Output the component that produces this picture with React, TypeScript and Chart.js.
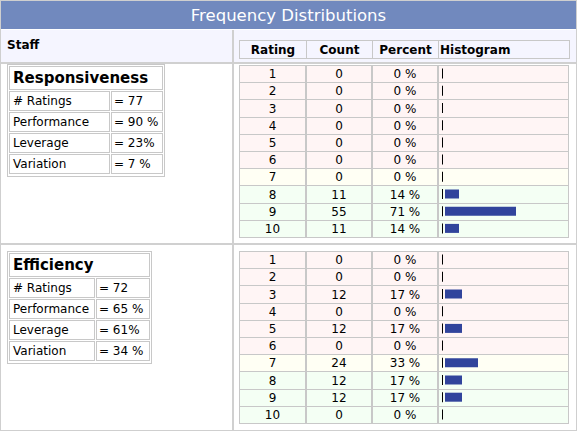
import React, { useEffect, useRef } from "react";
import { Chart, registerables } from "chart.js";

Chart.register(...registerables);

const TITLE = "Frequency Distributions";
const STAFF_HEADER = "Staff";
const HEADERS = ["Rating", "Count", "Percent", "Histogram"];
const RATINGS = [1, 2, 3, 4, 5, 6, 7, 8, 9, 10];

const STAFF = ["Responsiveness", "Efficiency"];
const STAT_LABELS = ["# Ratings", "Performance", "Leverage", "Variation"];
const RESP_STATS = ["= 77", "= 90 %", "= 23%", "= 7 %"];
const EFF_STATS = ["= 72", "= 65 %", "= 61%", "= 34 %"];

const RESP_COUNTS = [0, 0, 0, 0, 0, 0, 0, 11, 55, 11];
const RESP_PCTS = [0, 0, 0, 0, 0, 0, 0, 14, 71, 14];
const EFF_COUNTS = [0, 0, 12, 0, 12, 0, 24, 12, 12, 0];
const EFF_PCTS = [0, 0, 17, 0, 17, 0, 33, 17, 17, 0];

const FONT = "'DejaVu Sans', Verdana, sans-serif";
const GRID = "#c8c8c8";
const BLUE = "#7189be";
const BAR = "#31449c";

const COLS = [239, 306, 372, 438, 569];
const ROW_H = 17.2;

function rowColor(r: number) {
  if (r <= 6) return "#fff5f5";
  if (r === 7) return "#fffff4";
  return "#f4fff4";
}

function Box(p: {
  x: number; y: number; w: number; h: number; bg?: string; border?: string;
  children?: React.ReactNode; align?: "left" | "center"; font?: string; pad?: number;
}) {
  return (
    <div
      style={{
        position: "absolute",
        left: p.x,
        top: p.y,
        width: p.w,
        height: p.h,
        boxSizing: "border-box",
        background: p.bg || "transparent",
        border: p.border || "none",
        font: p.font || `12px ${FONT}`,
        color: "#000",
        display: "flex",
        alignItems: "center",
        justifyContent: p.align === "center" ? "center" : "flex-start",
        paddingLeft: p.pad || 0,
        whiteSpace: "nowrap",
        overflow: "hidden",
      }}
    >
      {p.children}
    </div>
  );
}

function Histogram(p: { x: number; y: number; w: number; h: number; pcts: number[] }) {
  const ref = useRef<HTMLCanvasElement | null>(null);
  useEffect(() => {
    if (!ref.current) return;
    const chart = new Chart(ref.current, {
      type: "bar",
      data: {
        labels: RATINGS.map(String),
        datasets: [
          {
            data: p.pcts,
            backgroundColor: BAR,
            barThickness: 9,
            grouped: false,
            borderWidth: 0,
            inflateAmount: 0,
          } as any,
          {
            data: RATINGS.map(() => [-3, -2]),
            backgroundColor: "#000",
            barThickness: 10,
            grouped: false,
            borderWidth: 0,
            inflateAmount: 0,
          } as any,
        ],
      },
      options: {
        indexAxis: "y",
        animation: false,
        responsive: false,
        maintainAspectRatio: false,
        layout: { padding: 0 },
        plugins: { legend: { display: false }, tooltip: { enabled: false } },
        scales: {
          x: { display: false, min: -5, max: p.w - 5 },
          y: { display: false },
        },
      },
    });
    return () => chart.destroy();
  }, []);
  return (
    <canvas
      ref={ref}
      width={p.w}
      height={p.h}
      style={{ position: "absolute", left: p.x, top: p.y, width: p.w, height: p.h }}
    />
  );
}

function RatingTable(p: { top: number; counts: number[]; pcts: number[] }) {
  const cells: React.ReactNode[] = [];
  RATINGS.forEach((r, i) => {
    const y0 = Math.round(p.top + i * ROW_H);
    const y1 = Math.round(p.top + (i + 1) * ROW_H);
    const texts = [String(r), String(p.counts[i]), `${p.pcts[i]} %`, ""];
    for (let c = 0; c < 4; c++) {
      cells.push(
        <Box
          key={`${i}-${c}`}
          x={COLS[c]}
          y={y0}
          w={COLS[c + 1] - COLS[c]}
          h={y1 - y0 + 1}
          bg={rowColor(r)}
          border={`1px solid ${GRID}`}
          align="center"
        >
          {texts[c]}
        </Box>
      );
    }
  });
  const h = Math.round(10 * ROW_H);
  return (
    <>
      {cells}
      <Histogram x={440} y={p.top} w={128} h={h} pcts={p.pcts} />
    </>
  );
}

function StatBox(p: { x: number; y: number; w: number; lw: number; name: string; values: string[] }) {
  const inner = p.w - 4;
  const rows = STAT_LABELS.map((l, k) => {
    const y = p.y + 27 + k * 21;
    return (
      <React.Fragment key={l}>
        <Box x={p.x + 2} y={y} w={p.lw} h={20} border={`1px solid ${GRID}`} pad={3}>
          {l}
        </Box>
        <Box x={p.x + 2 + p.lw + 1} y={y} w={inner - p.lw - 1} h={20} border={`1px solid ${GRID}`} pad={2}>
          {p.values[k]}
        </Box>
      </React.Fragment>
    );
  });
  return (
    <>
      <Box x={p.x} y={p.y} w={p.w} h={27 + 4 * 21 + 2} border={`1px solid ${GRID}`} />
      <Box x={p.x + 2} y={p.y + 2} w={inner} h={24} border={`1px solid ${GRID}`} pad={3} font={`bold 15px ${FONT}`}>
        {p.name}
      </Box>
      {rows}
    </>
  );
}

export default function App() {
  return (
    <div
      style={{
        position: "fixed",
        left: 0,
        top: 0,
        width: 577,
        height: 431,
        background: "#fff",
        fontFamily: FONT,
      }}
    >
      <Box x={0} y={0} w={577} h={431} border="1px solid #cfcfcf" />
      <Box x={1} y={1} w={575} h={28} bg={BLUE} align="center" font={`16.5px ${FONT}`}>
        <span style={{ color: "#fff", marginTop: 1 }}>{TITLE}</span>
      </Box>
      <Box x={1} y={30} w={575} h={33} bg="#f5f5ff" />
      <Box x={7} y={30} w={200} h={29} font={`bold 12px ${FONT}`}>
        {STAFF_HEADER}
      </Box>
      {HEADERS.map((h, c) => (
        <Box
          key={h}
          x={COLS[c]}
          y={40}
          w={COLS[c + 1] - COLS[c] + 1}
          h={19}
          border={`1px solid ${GRID}`}
          align={c === 3 ? "left" : "center"}
          pad={c === 3 ? 1 : 0}
          font={`bold 12px ${FONT}`}
        >
          {h}
        </Box>
      ))}
      <Box x={1} y={62} w={575} h={2} bg="#d0d0d0" />
      <Box x={1} y={243} w={575} h={2} bg="#d0d0d0" />
      <Box x={232} y={30} w={2} h={400} bg="#d0d0d0" />

      <StatBox x={7} y={64} w={158} lw={101} name={STAFF[0]} values={RESP_STATS} />
      <StatBox x={7} y={251} w={145} lw={86} name={STAFF[1]} values={EFF_STATS} />

      <RatingTable top={65} counts={RESP_COUNTS} pcts={RESP_PCTS} />
      <RatingTable top={251} counts={EFF_COUNTS} pcts={EFF_PCTS} />
    </div>
  );
}
